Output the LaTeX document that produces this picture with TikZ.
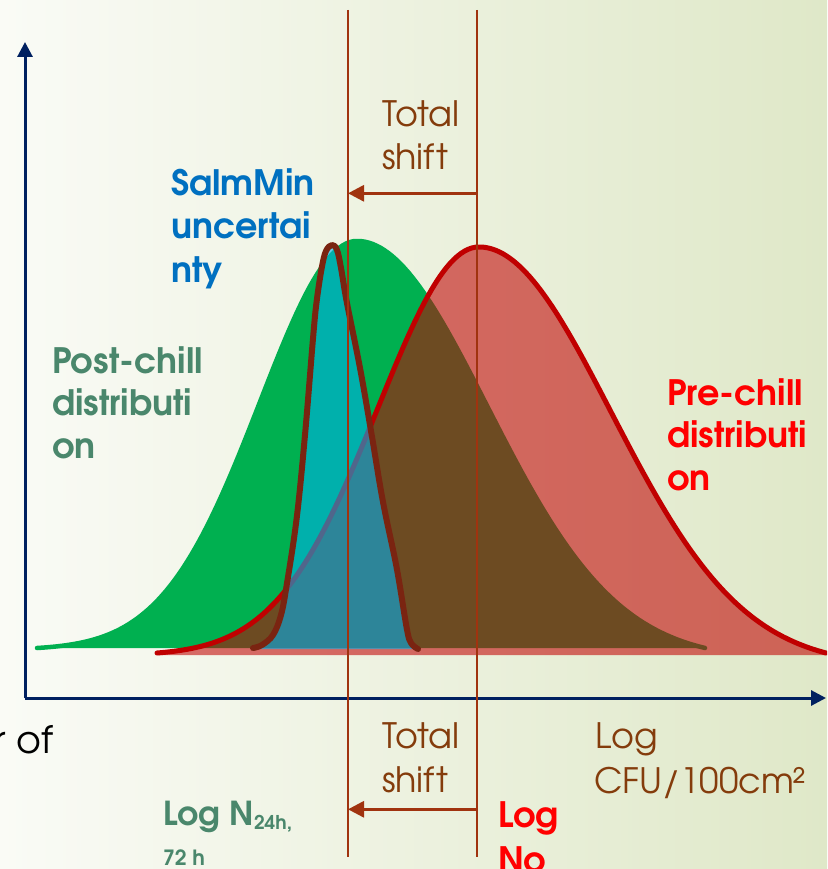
\documentclass[tikz,border=0pt]{standalone}
\usepackage{fontspec}
\setmainfont{TeX Gyre Adventor}
\usetikzlibrary{arrows.meta}
\definecolor{bgA}{HTML}{FAFBF6}
\definecolor{bgB}{HTML}{DFE8C8}
\definecolor{navy}{HTML}{002060}
\definecolor{vline}{HTML}{A0330F}
\definecolor{txtbrown}{HTML}{843C0C}
\definecolor{gpost}{HTML}{00B050}
\definecolor{rpre}{HTML}{C00000}
\definecolor{cyanf}{HTML}{00B0F0}
\definecolor{salmline}{HTML}{7A2411}
\definecolor{blueT}{HTML}{0070C0}
\definecolor{greyg}{HTML}{4A876C}
\definecolor{redT}{HTML}{FF0000}
\begin{document}
\begin{tikzpicture}[x=1pt,y=-1pt,
  declare function={gs(\t,\m,\s)=exp(-0.5*((\t-\m)/\s)*((\t-\m)/\s));
                    tg(\t,\m,\s,\e)=(gs(\t,\m,\s)-gs(\e,\m,\s))/(1-gs(\e,\m,\s));},
  lbl/.style={anchor=base west, inner sep=0pt, outer sep=0pt},
  plain/.style={lbl, text=txtbrown, font=\fontsize{35}{42}\selectfont},
  bold/.style={lbl, font=\bfseries\fontsize{35}{42}\selectfont},
  axis/.style={navy, line width=3pt, -{Triangle[length=15pt,width=15pt]}},
  marker/.style={vline, line width=2pt},
  shiftarrow/.style={vline, line width=3pt, -{Triangle[length=16pt,width=16pt]}}]
\clip (0,0) rectangle (827,869);
\shade[left color=bgA, right color=bgB] (0,0) rectangle (827,869);

% post-chill (green)
\fill[gpost] (37,648) -- plot[domain=37:357,samples=90] (\x,{648-407*tg(\x,357,97,37)})
  -- plot[domain=357:705,samples=90] (\x,{648-407*tg(\x,357,130,705)}) -- cycle;
\draw[gpost, line width=4.5pt, line cap=round, line join=round]
  plot[domain=37:357,samples=90] (\x,{648-407*tg(\x,357,97,37)})
  -- plot[domain=357:705,samples=90] (\x,{648-407*tg(\x,357,130,705)});

% pre-chill (red)
\fill[rpre, fill opacity=0.57] (157,655) -- plot[domain=157:479,samples=90] (\x,{653-406*tg(\x,479,101,157)})
  -- plot[domain=479:826,samples=90] (\x,{653-406*tg(\x,479,132,826)}) -- (826,655) -- cycle;
\draw[rpre, line width=5pt, line cap=round, line join=round]
  plot[domain=157:479,samples=90] (\x,{653-406*tg(\x,479,101,157)})
  -- plot[domain=479:826,samples=90] (\x,{653-406*tg(\x,479,132,826)});

% SalmMin uncertainty
\fill[cyanf, fill opacity=0.58] plot[smooth, tension=0.6] coordinates {
  (253,649) (262,646) (273,635) (281,615) (286.7,585) (296.7,518) (305,435) (313.3,335)
  (316.7,301) (321.7,268) (326,251) (332,245) (337,250) (341,268) (346.7,301.7)
  (360,368) (371.7,435) (383,502) (396.7,568) (406.7,628) (411,643) (418,649)} -- cycle;
\draw[salmline, line width=6pt, line cap=round, line join=round] plot[smooth, tension=0.6] coordinates {
  (253,648) (262,645) (273,635) (281,615) (286.7,585) (296.7,518) (305,435) (313.3,335)
  (316.7,301) (321.7,268) (326,251) (332,245) (337,250) (341,268) (346.7,301.7)
  (360,368) (371.7,435) (383,502) (396.7,568) (406.7,628) (411,643) (418,649)};

% axes
\coordinate (O) at (25,698);
\coordinate (Ytip) at (25,42);
\coordinate (Xtip) at (826,698);
\draw[axis] (O) -- (Ytip);
\draw[axis] (O) -- (Xtip);

% markers
\coordinate (Lt) at (348,10);
\coordinate (Lb) at (348,857);
\coordinate (Rt) at (477,10);
\coordinate (Rb) at (477,857);
\draw[marker] (Lt) -- (Lb);
\draw[marker] (Rt) -- (Rb);
\coordinate (a1s) at (477,193.3);
\coordinate (a1e) at (348,193.3);
\coordinate (a2s) at (477,809.3);
\coordinate (a2e) at (348,809.3);
\draw[shiftarrow] (a1s) -- (a1e);
\draw[shiftarrow] (a2s) -- (a2e);

% texts
\node[plain] (tot1) at (382,127) {Total};
\node[plain] (sh1) at (382,169) {shift};
\node[plain] (tot2) at (382,748) {Total};
\node[plain] (sh2) at (382,792) {shift};
\node[plain] (lg) at (595,748) {Log};
\node[plain] (cfu) at (594,793) {CFU/100cm²};
\node[lbl, text=black, font=\fontsize{38}{44}\selectfont, anchor=base east] (rof) at (53,753) {r of};

\node[bold, text=blueT] (s1) at (171,195) {SalmMin};
\node[bold, text=blueT] (s2) at (171,238) {uncertai};
\node[bold, text=blueT] (s3) at (171,282) {nty};

\node[bold, text=greyg] (p1) at (52,373) {Post-chill};
\node[bold, text=greyg] (p2) at (52,415) {distributi};
\node[bold, text=greyg] (p3) at (52,458) {on};

\node[bold, text=redT] (q1) at (667,405) {Pre-chill};
\node[bold, text=redT] (q2) at (667,447) {distributi};
\node[bold, text=redT] (q3) at (667,490) {on};

\node[lbl, text=greyg, font=\bfseries\fontsize{33}{38}\selectfont] (n1) at (163,825)
  {Log N\raisebox{-4pt}{\fontsize{19}{19}\selectfont 24h,}};
\node[lbl, text=greyg, font=\bfseries\fontsize{21}{24}\selectfont] (n2) at (163,865) {72 h};

\node[bold, text=redT] (o1) at (498,827) {Log};
\node[bold, text=redT] (o2) at (498,872) {No};
\end{tikzpicture}
\end{document}
